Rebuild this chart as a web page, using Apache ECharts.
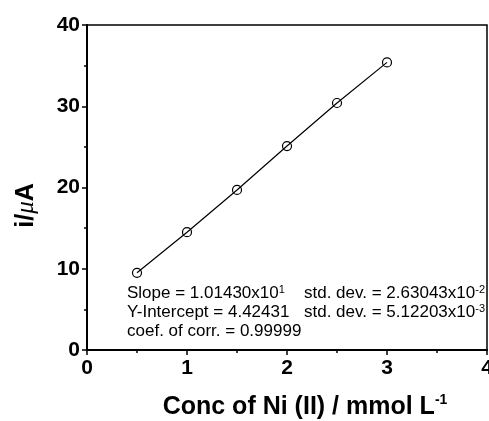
<!DOCTYPE html>
<html>
<head>
<meta charset="utf-8">
<script src="https://cdn.jsdelivr.net/npm/echarts@6/dist/echarts.min.js"></script>
<style>
  html, body { margin: 0; padding: 0; background: #fff; }
  #chart { width: 489px; height: 421px; }
</style>
</head>
<body>
<div id="chart"></div>
<script>
// Calibration data: Ni(II) concentration (mmol/L) vs peak current (µA)
const conc = [0.5, 1.0, 1.5, 2.0, 2.5, 3.0];
const current = [9.5, 14.5, 19.7, 25.1, 30.4, 35.4];

// Axis ranges
const xRange = [0, 4];
const yRange = [0, 40];
const xStep = 1;
const yStep = 10;

// Regression summary text (main part, superscript)
const fitText = [
  ['Slope = 1.01430x10', '1'],
  ['Y-Intercept = 4.42431', ''],
  ['coef. of corr. = 0.99999', '']
];
const devText = [
  ['std. dev. = 2.63043x10', '-2'],
  ['std. dev. = 5.12203x10', '-3']
];

const FONT = 'Liberation Sans, Arial, sans-serif';

function richBlock(lines) {
  return lines.map(([main, sup]) => '{m|' + main + '}' + (sup ? '{s|' + sup + '}' : '')).join('\n');
}
const textRich = {
  m: { fontSize: 17, fontFamily: FONT, lineHeight: 19, color: '#000' },
  s: { fontSize: 11, fontFamily: FONT, lineHeight: 10, verticalAlign: 'top', color: '#000' }
};

const chart = echarts.init(document.getElementById('chart'), null, { renderer: 'canvas' });

chart.setOption({
  backgroundColor: '#fff',
  animation: false,
  grid: {
    left: 87, right: 2, top: 25, bottom: 71,
    containLabel: false,
    outerBoundsMode: 'none',
    show: true,
    borderColor: '#000',
    borderWidth: 1.5,
    backgroundColor: 'transparent'
  },
  xAxis: {
    type: 'value',
    min: xRange[0], max: xRange[1], interval: xStep,
    name: '{b|Conc of Ni (II) / mmol L}{sup|-1}',
    nameLocation: 'middle',
    nameGap: 43,
    nameTextStyle: {
      padding: [0, 0, 0, 36],
      rich: {
        b: { fontSize: 25, fontWeight: 'bold', fontFamily: FONT, color: '#000', lineHeight: 28 },
        sup: { fontSize: 14, fontWeight: 'bold', fontFamily: FONT, color: '#000', lineHeight: 14, verticalAlign: 'top' }
      }
    },
    axisLine: { show: true, onZero: false, lineStyle: { color: '#000', width: 2 } },
    axisTick: { show: true, inside: false, length: 5, lineStyle: { color: '#000', width: 1.5 } },
    minorTick: { show: true, splitNumber: 2, length: 3, lineStyle: { color: '#000', width: 1.5 } },
    splitLine: { show: false },
    axisLabel: {
      show: true, margin: 8, showMinLabel: true, showMaxLabel: true,
      fontSize: 21, fontWeight: 'bold', fontFamily: FONT, color: '#000'
    }
  },
  yAxis: {
    type: 'value',
    min: yRange[0], max: yRange[1], interval: yStep,
    name: '{b|i/}{mu|μ}{b|A}',
    nameLocation: 'middle',
    nameRotate: 90,
    nameGap: 48,
    nameTextStyle: {
      padding: [0, 36, 0, 0],
      rich: {
        b: { fontSize: 25, fontWeight: 'bold', fontFamily: FONT, color: '#000' },
        mu: { fontSize: 25, fontStyle: 'italic', fontFamily: 'Liberation Serif, serif', color: '#000' }
      }
    },
    axisLine: { show: true, onZero: false, lineStyle: { color: '#000', width: 2 } },
    axisTick: { show: true, inside: false, length: 5, lineStyle: { color: '#000', width: 1.5 } },
    minorTick: { show: true, splitNumber: 2, length: 3, lineStyle: { color: '#000', width: 1.5 } },
    splitLine: { show: false },
    axisLabel: {
      show: true, margin: 7,
      fontSize: 21, fontWeight: 'bold', fontFamily: FONT, color: '#000'
    }
  },
  series: [
    {
      type: 'line',
      data: conc.map((c, i) => [c, current[i]]),
      symbol: 'circle',
      symbolSize: 9,
      itemStyle: { color: 'rgba(0,0,0,0)', borderColor: '#000', borderWidth: 1.2 },
      lineStyle: { color: '#000', width: 1.2 },
      emphasis: { disabled: true },
      z: 3
    }
  ],
  graphic: [
    {
      type: 'text', left: 127, top: 284,
      style: { text: richBlock(fitText), rich: textRich }
    },
    {
      type: 'text', left: 304, top: 284,
      style: { text: richBlock(devText), rich: textRich }
    }
  ]
});
</script>
</body>
</html>
